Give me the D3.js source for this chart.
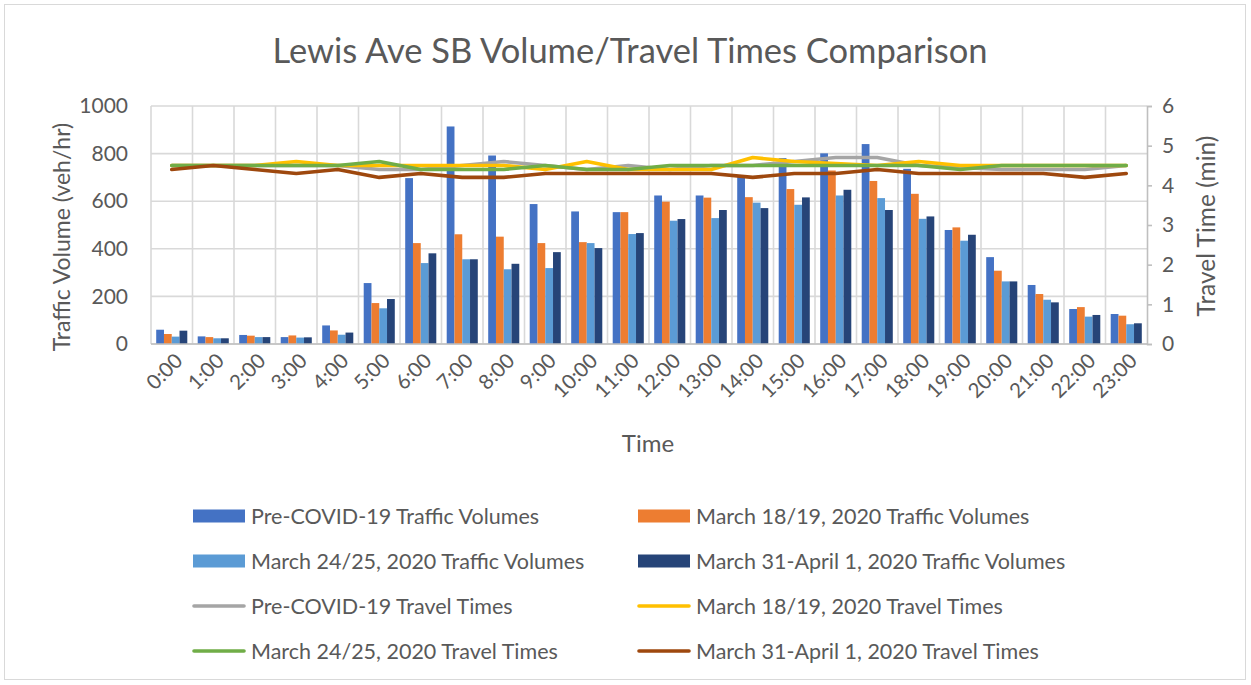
<!DOCTYPE html>
<html>
<head>
<meta charset="utf-8">
<script src="https://cdn.jsdelivr.net/npm/d3@7"></script>
<style>
  body { margin: 0; background: #fff; }
  svg { display: block; font-family: Lato, "Open Sans", sans-serif; }
</style>
</head>
<body>
<svg id="chart" width="1251" height="685"></svg>
<script>
// Hour categories
const hours = ["0:00", "1:00", "2:00", "3:00", "4:00", "5:00", "6:00", "7:00", "8:00", "9:00",
  "10:00", "11:00", "12:00", "13:00", "14:00", "15:00", "16:00", "17:00", "18:00", "19:00",
  "20:00", "21:00", "22:00", "23:00"];

// Traffic volumes (veh/hr)
const preCovidVolumes = [60, 32, 38, 29, 78, 256, 697, 914, 792, 588, 557, 554, 624, 624, 710, 781, 801, 840, 736, 479, 365, 248, 147, 126];
const march18Volumes = [42, 29, 35, 36, 57, 172, 424, 461, 451, 424, 428, 554, 598, 615, 617, 651, 729, 685, 631, 490, 308, 210, 155, 119];
const march24Volumes = [31, 24, 29, 27, 39, 150, 340, 356, 314, 319, 424, 462, 518, 529, 594, 585, 624, 613, 526, 434, 263, 186, 115, 83];
const march31Volumes = [56, 24, 29, 28, 48, 189, 381, 356, 337, 386, 403, 466, 525, 563, 571, 616, 648, 563, 536, 459, 263, 175, 122, 87];

// Travel times (min)
const preCovidTimes = [4.5, 4.5, 4.5, 4.5, 4.5, 4.4, 4.4, 4.5, 4.6, 4.5, 4.4, 4.5, 4.4, 4.5, 4.5, 4.6, 4.7, 4.7, 4.5, 4.45, 4.4, 4.4, 4.4, 4.5];
const march18Times = [4.5, 4.5, 4.5, 4.6, 4.5, 4.5, 4.5, 4.5, 4.5, 4.4, 4.6, 4.4, 4.4, 4.4, 4.7, 4.6, 4.55, 4.5, 4.6, 4.5, 4.5, 4.5, 4.5, 4.5];
const march24Times = [4.5, 4.5, 4.5, 4.5, 4.5, 4.6, 4.4, 4.4, 4.4, 4.5, 4.4, 4.4, 4.5, 4.5, 4.5, 4.5, 4.5, 4.5, 4.5, 4.4, 4.5, 4.5, 4.5, 4.5];
const march31Times = [4.4, 4.5, 4.4, 4.3, 4.4, 4.2, 4.3, 4.2, 4.2, 4.3, 4.3, 4.3, 4.3, 4.3, 4.2, 4.3, 4.3, 4.4, 4.3, 4.3, 4.3, 4.3, 4.2, 4.3];

// Tick values
const volumeTicks = [0, 200, 400, 600, 800, 1000];
const timeTicks = [0, 1, 2, 3, 4, 5, 6];

const barSeries = [
  { name: "Pre-COVID-19 Traffic Volumes", values: preCovidVolumes, color: "#4472C4" },
  { name: "March 18/19, 2020 Traffic Volumes", values: march18Volumes, color: "#ED7D31" },
  { name: "March 24/25, 2020 Traffic Volumes", values: march24Volumes, color: "#5B9BD5" },
  { name: "March 31-April 1, 2020 Traffic Volumes", values: march31Volumes, color: "#264478" },
];
const lineSeries = [
  { name: "Pre-COVID-19 Travel Times", values: preCovidTimes, color: "#A5A5A5" },
  { name: "March 18/19, 2020 Travel Times", values: march18Times, color: "#FFC000" },
  { name: "March 24/25, 2020 Travel Times", values: march24Times, color: "#70AD47" },
  { name: "March 31-April 1, 2020 Travel Times", values: march31Times, color: "#9E480E" },
];

const TEXT = "#595959";
const GRID = "#d9d9d9";
const PLOT = { left: 151, right: 1147, top: 106, bottom: 344 };

const svg = d3.select("#chart");

// Chart border
svg.append("rect")
  .attr("x", 4.5).attr("y", 4.5)
  .attr("width", 1241).attr("height", 675)
  .attr("fill", "#fff")
  .attr("stroke", GRID)
  .attr("stroke-width", 1);

// Scales
const xScale = d3.scaleBand()
  .domain(hours)
  .range([PLOT.left, PLOT.right])
  .padding(0);

const xInner = d3.scaleBand()
  .domain(barSeries.map(d => d.name))
  .range([0, xScale.bandwidth()])
  .paddingInner(0)
  .paddingOuter(0.67);

const yScale = d3.scaleLinear()
  .domain([0, 1000])
  .range([PLOT.bottom, PLOT.top]);

const y2Scale = d3.scaleLinear()
  .domain([0, 6])
  .range([PLOT.bottom, PLOT.top]);

// Gridlines
const grid = svg.append("g").attr("class", "grid");
grid.selectAll("line.h")
  .data(volumeTicks)
  .join("line")
  .attr("class", "h")
  .attr("x1", PLOT.left).attr("x2", PLOT.right)
  .attr("y1", d => yScale(d)).attr("y2", d => yScale(d))
  .attr("stroke", GRID).attr("stroke-width", 1.6);
grid.selectAll("line.v")
  .data(hours)
  .join("line")
  .attr("class", "v")
  .attr("x1", d => xScale(d)).attr("x2", d => xScale(d))
  .attr("y1", PLOT.top).attr("y2", PLOT.bottom)
  .attr("stroke", GRID).attr("stroke-width", 1.6);

// Bars
const groups = svg.append("g").attr("class", "bars")
  .selectAll("g")
  .data(barSeries)
  .join("g")
  .attr("fill", d => d.color);
groups.selectAll("rect")
  .data(s => s.values.map((v, i) => ({ key: s.name, hour: hours[i], value: v })))
  .join("rect")
  .attr("x", d => xScale(d.hour) + xInner(d.key))
  .attr("width", xInner.bandwidth())
  .attr("y", d => yScale(d.value))
  .attr("height", d => yScale(0) - yScale(d.value));

// Bottom axis line
svg.append("line")
  .attr("x1", PLOT.left).attr("x2", PLOT.right)
  .attr("y1", PLOT.bottom).attr("y2", PLOT.bottom)
  .attr("stroke", "#bfbfbf").attr("stroke-width", 1.6);

// Travel time lines
const line = d3.line()
  .x((d, i) => xScale(hours[i]) + xScale.bandwidth() / 2)
  .y(d => y2Scale(d));
svg.append("g").attr("class", "lines")
  .selectAll("path")
  .data(lineSeries)
  .join("path")
  .attr("fill", "none")
  .attr("stroke", d => d.color)
  .attr("stroke-width", 3.6)
  .attr("stroke-linejoin", "round")
  .attr("stroke-linecap", "round")
  .attr("d", d => line(d.values));

// Left axis
const yAxis = d3.axisLeft(yScale).tickValues(volumeTicks).tickFormat(d3.format("d")).tickSize(0).tickPadding(23);
svg.append("g")
  .attr("transform", `translate(${PLOT.left}, 0)`)
  .call(yAxis)
  .call(g => g.select(".domain").remove())
  .call(g => g.selectAll("text").attr("fill", TEXT).attr("font-size", 21).attr("font-family", "Lato"));

// Right axis
const y2Axis = d3.axisRight(y2Scale).tickValues(timeTicks).tickFormat(d3.format("d")).tickSize(5).tickPadding(10);
svg.append("g")
  .attr("transform", `translate(${PLOT.right}, 0)`)
  .call(y2Axis)
  .call(g => g.select(".domain").attr("stroke", "#bfbfbf").attr("stroke-width", 1.6))
  .call(g => g.selectAll(".tick line").attr("stroke", "#bfbfbf").attr("stroke-width", 1.6))
  .call(g => g.selectAll("text").attr("fill", TEXT).attr("font-size", 21).attr("font-family", "Lato"));

// X tick labels (rotated)
svg.append("g").attr("class", "x-labels")
  .selectAll("text")
  .data(hours)
  .join("text")
  .attr("transform", d => `translate(${xScale(d) + xScale.bandwidth() / 2 + 7}, 357) rotate(-45)`)
  .attr("text-anchor", "end")
  .attr("dy", "0.35em")
  .attr("fill", TEXT)
  .attr("font-size", 20.5)
  .text(d => d);

// Title
svg.append("text")
  .attr("x", 630).attr("y", 63)
  .attr("text-anchor", "middle")
  .attr("fill", TEXT)
  .attr("font-size", 34.5)
  .text("Lewis Ave SB Volume/Travel Times Comparison");

// Axis titles
svg.append("text")
  .attr("transform", "translate(70, 237) rotate(-90)")
  .attr("text-anchor", "middle")
  .attr("fill", TEXT)
  .attr("font-size", 23)
  .text("Traffic Volume (veh/hr)");
svg.append("text")
  .attr("transform", "translate(1215, 226) rotate(-90)")
  .attr("text-anchor", "middle")
  .attr("fill", TEXT)
  .attr("font-size", 24.5)
  .text("Travel Time (min)");
svg.append("text")
  .attr("x", 648).attr("y", 452)
  .attr("text-anchor", "middle")
  .attr("fill", TEXT)
  .attr("font-size", 24)
  .text("Time");

// Legend: two columns, series in alternating order
const legendItems = [];
barSeries.forEach(d => legendItems.push({ ...d, type: "bar" }));
lineSeries.forEach(d => legendItems.push({ ...d, type: "line" }));
const legendColX = [193, 638];
const legendRowY = [516, 561, 606, 651];

const legend = svg.append("g").attr("class", "legend")
  .selectAll("g")
  .data(legendItems)
  .join("g")
  .attr("transform", (d, i) => `translate(${legendColX[i % 2]}, ${legendRowY[Math.floor(i / 2)]})`);
legend.filter(d => d.type === "bar").append("rect")
  .attr("x", 0).attr("y", -6.5)
  .attr("width", 52).attr("height", 13)
  .attr("fill", d => d.color);
legend.filter(d => d.type === "line").append("line")
  .attr("x1", 1).attr("x2", 51)
  .attr("y1", 0).attr("y2", 0)
  .attr("stroke", d => d.color)
  .attr("stroke-width", 3.6)
  .attr("stroke-linecap", "round");
legend.append("text")
  .attr("x", 58).attr("dy", "0.35em")
  .attr("fill", TEXT)
  .attr("font-size", 21.5)
  .text(d => d.name);
</script>
</body>
</html>
